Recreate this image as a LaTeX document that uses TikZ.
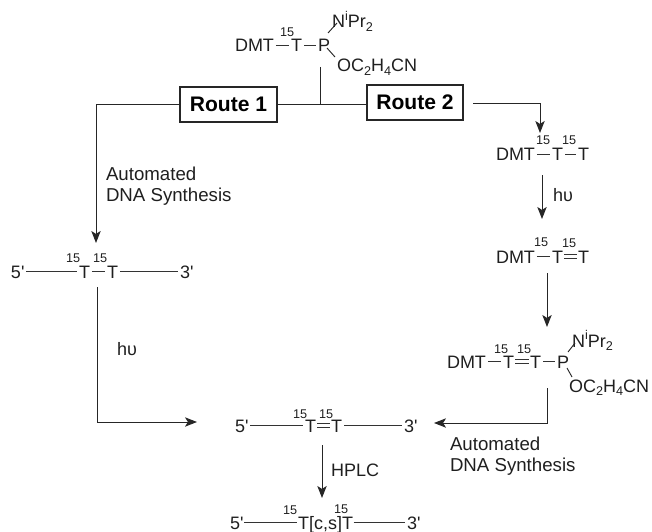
\documentclass[tikz,border=0pt]{standalone}
\usepackage{fontspec}
\setmainfont{Liberation Sans}[Ligatures=TeXOff]
\usetikzlibrary{arrows.meta}
\newcommand{\Sup}[1]{\raisebox{5.4pt}{\fontsize{9.5}{9.5}\selectfont #1}}
\newcommand{\Sub}[1]{\raisebox{-2.6pt}{\fontsize{9.5}{9.5}\selectfont #1}}
\newcommand{\NiPr}{N\Sup{i}Pr\Sub{2}}
\newcommand{\OCN}{OC\Sub{2}H\Sub{4}CN}
\tikzset{
  x=0.75pt,y=-0.75pt,
  lbl/.style={inner sep=0pt,outer sep=0pt,font=\fontsize{13.5}{15.4}\selectfont,anchor=base west,text=black!88},
  atom/.style={lbl,text height=9.7pt,text depth=0pt},
  iso/.style={lbl,font=\fontsize{9.5}{10}\selectfont},
  para/.style={lbl,anchor=north west,align=left,font=\fontsize{14}{15.4}\selectfont},
  routebox/.style={draw=black!85,line width=0.9pt,inner sep=0pt,minimum width=#1,
    font=\fontsize{15.8}{18}\selectfont\bfseries,text=black},
  bond/.style={draw=black!80,line width=0.7pt,shorten <=1.5pt,shorten >=1.5pt},
  dbond/.style={draw=black!80,line width=0.6pt,double,double distance=2.2pt,shorten <=0.8pt,shorten >=0.8pt},
  plain/.style={draw=black!85,line width=0.7pt},
  flow/.style={plain,-{Stealth[length=9pt,width=7pt,inset=2.2pt]}},
}
\begin{document}
\begin{tikzpicture}
\useasboundingbox (0,0) rectangle (652,531);
% top reagent
\node[atom] (adm) at (235,52) {DMT};
\node[iso] (ai) at (280,37) {15};
\node[atom] (at) at (291,52) {T};
\node[atom] (ap) at (318,52) {P};
\node[lbl] (an) at (332,28) {\NiPr};
\node[lbl] (ao) at (337,72) {\OCN};
\coordinate (apn) at (328,33); \coordinate (ann) at (337,23);
\coordinate (apo) at (327,48); \coordinate (aoo) at (335,57);
\draw[bond] (adm) -- (at);
\draw[bond] (at) -- (ap);
\draw[plain] (apn) -- (ann);
\draw[plain] (apo) -- (aoo);
% route boxes
\node[routebox=97pt*0.75,minimum height=35pt*0.75] (r1) at (228.5,104.5) {Route 1};
\node[routebox=96pt*0.75,minimum height=35pt*0.75] (r2) at (415,102.5) {Route 2};
\coordinate (stem) at (320,67);
\coordinate (r2s) at (473,103);
\coordinate (j) at (320,105);
\draw[plain] (r1.east) -- (r1.east -| r2.west);
\draw[plain] (stem) -- (j);
% left strand
\node[atom] (b5) at (11,278) {5'};
\node[iso] (bi1) at (66,262) {15};
\node[atom] (bt1) at (79,278) {T};
\node[iso] (bi2) at (93,262) {15};
\node[atom] (bt2) at (107,278) {T};
\node[atom] (b3) at (180,278) {3'};
\draw[bond] (b5) -- (bt1);
\draw[bond] (bt1) -- (bt2);
\draw[bond] (bt2) -- (b3);
\draw[flow] (r1.west) -| (96,243);
\node[para] (l1) at (106,167) {Automated\\DNA Synthesis};
\coordinate (bs) at (97,287);
\coordinate (bc) at (197,422);
\draw[flow] (bs) |- (bc);
\node[lbl] (l2) at (117,355) {h\char"03C5};
% right column
\node[atom] (cd) at (496,161) {DMT};
\node[iso] (ci1) at (536,144) {15};
\node[atom] (ct1) at (552,161) {T};
\node[iso] (ci2) at (562,144) {15};
\node[atom] (ct2) at (578,161) {T};
\draw[bond] (cd) -- (ct1);
\draw[bond] (ct1) -- (ct2);
\coordinate (r2t) at (540,133);
\draw[flow] (r2s) -| (r2t);
\coordinate (cs) at (542,175); \coordinate (de) at (542,219);
\draw[flow] (cs) -- (de);
\node[lbl] (l3) at (553,201) {h\char"03C5};
\node[atom] (dd) at (496,263) {DMT};
\node[iso] (di1) at (534,246) {15};
\node[atom] (dt1) at (552,263) {T};
\node[iso] (di2) at (562,247) {15};
\node[atom] (dt2) at (578,263) {T};
\draw[bond] (dd) -- (dt1);
\draw[dbond] (dt1) -- (dt2);
\coordinate (ds) at (547,273); \coordinate (ee) at (547,327);
\draw[flow] (ds) -- (ee);
\node[atom] (ed) at (447,368) {DMT};
\node[iso] (ei1) at (494,353) {15};
\node[atom] (et1) at (503,368) {T};
\node[iso] (ei2) at (517,353) {15};
\node[atom] (et2) at (530,368) {T};
\node[atom] (ep) at (557,368) {P};
\node[lbl] (en) at (572,347) {\NiPr};
\node[lbl] (eo) at (569,392) {\OCN};
\coordinate (epn) at (568,352); \coordinate (enn) at (575,343);
\coordinate (epo) at (567,368); \coordinate (eoo) at (572,377);
\draw[bond] (ed) -- (et1);
\draw[dbond] (et1) -- (et2);
\draw[bond] (et2) -- (ep);
\draw[plain] (epn) -- (enn);
\draw[plain] (epo) -- (eoo);
% centre strand
\node[atom] (f5) at (235,432) {5'};
\node[iso] (fi1) at (293,418) {15};
\node[atom] (ft1) at (305,432) {T};
\node[iso] (fi2) at (319,418) {15};
\node[atom] (ft2) at (331,432) {T};
\node[atom] (f3) at (404,432) {3'};
\draw[bond] (f5) -- (ft1);
\draw[dbond] (ft1) -- (ft2);
\draw[bond] (ft2) -- (f3);
\coordinate (es) at (547,388); \coordinate (fa) at (434,423);
\draw[flow] (es) |- (fa);
\node[para] (l4) at (450,437) {Automated\\DNA Synthesis};
\coordinate (fs) at (322,445); \coordinate (ga) at (322,498);
\draw[flow] (fs) -- (ga);
\node[lbl] (l5) at (331,476) {HPLC};
% bottom strand
\node[atom] (g5) at (230,529) {5'};
\node[iso] (gi1) at (283,514) {15};
\node[atom] (gt) at (298,529) {T[c,s]T};
\node[iso] (gi2) at (334,513) {15};
\node[atom] (g3) at (407,529) {3'};
\draw[bond,shorten <=0.5pt,shorten >=0.5pt] (g5) -- (gt);
\draw[bond,shorten <=0.5pt] (gt) -- (g3);
\end{tikzpicture}
\end{document}
